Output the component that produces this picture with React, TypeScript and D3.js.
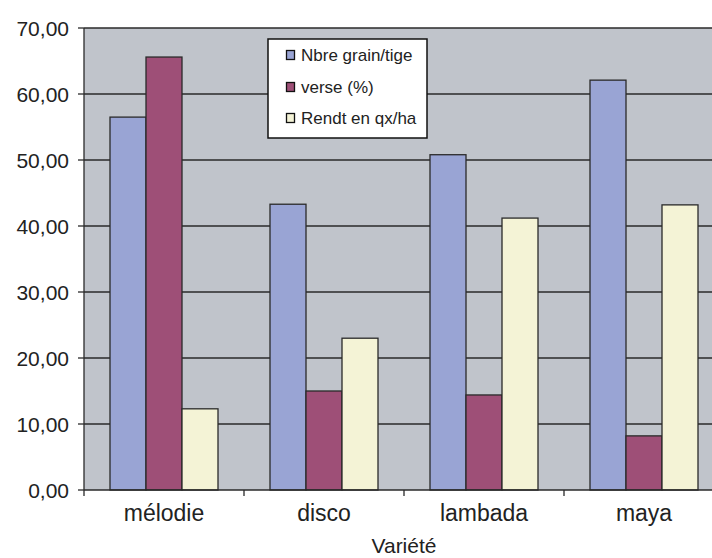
import React from "react";
import * as d3 from "d3";

const categories = ["mélodie", "disco", "lambada", "maya"];
const seriesNames = ["Nbre grain/tige", "verse (%)", "Rendt en qx/ha"];
const grain = [56.5, 43.3, 50.8, 62.1];
const verse = [65.6, 15.0, 14.4, 8.2];
const rendt = [12.3, 23.0, 41.2, 43.2];
const yTicks = [0, 10, 20, 30, 40, 50, 60, 70];
const colors = ["#99A4D4", "#9E4F77", "#F4F3D6"];

export default function App() {
  const W = 712, H = 558;
  const left = 84, top = 28, bottom = 490, right = 724;
  const series = [grain, verse, rendt];
  const x = d3.scaleBand<string>().domain(categories).range([left, right]).paddingInner(0).paddingOuter(0);
  const y = d3.scaleLinear().domain([0, 70]).range([bottom, top]);
  const font = "Liberation Sans, Arial, sans-serif";
  const inner = x.bandwidth();
  const groupW = 108;
  const barW = groupW / 3;
  const off = (inner - groupW) / 2;
  const legY = [55, 87, 118];
  return (
    <svg width={W} height={H} style={{ position: "absolute", left: 0, top: 0 }}>
      <rect x={0} y={0} width={W} height={H} fill="#fff" />
      <rect x={left} y={top} width={right - left} height={bottom - top} fill="#C0C4CB" />
      {yTicks.map((t) => (
        <g key={t}>
          {t > 0 && <line x1={left} x2={right} y1={y(t)} y2={y(t)} stroke="#2a2a2a" strokeWidth={1.3} />}
          <line x1={left - 6} x2={left} y1={y(t)} y2={y(t)} stroke="#2a2a2a" strokeWidth={1.3} />
          <text x={69} y={y(t)} dy="0.36em" textAnchor="end" fontFamily={font} fontSize={21} fill="#222">
            {d3.format(".2f")(t).replace(".", ",")}
          </text>
        </g>
      ))}
      {categories.map((c, i) => (
        <g key={c}>
          {series.map((s, k) => (
            <rect key={k} x={(x(c) as number) + off + k * barW} y={y(s[i])} width={barW} height={bottom - y(s[i])}
              fill={colors[k]} stroke="#2a2a2a" strokeWidth={1.3} />
          ))}
          <line x1={x(c) as number} x2={x(c) as number} y1={bottom} y2={bottom + 6} stroke="#2a2a2a" strokeWidth={1.3} />
          <text x={(x(c) as number) + inner / 2} y={521} textAnchor="middle" fontFamily={font} fontSize={23} fill="#222">{c}</text>
        </g>
      ))}
      <line x1={left} x2={left} y1={top} y2={bottom} stroke="#2a2a2a" strokeWidth={1.3} />
      <line x1={left} x2={right} y1={bottom} y2={bottom} stroke="#2a2a2a" strokeWidth={1.3} />
      <text x={404} y={553} textAnchor="middle" fontFamily={font} fontSize={21} fill="#222">Variété</text>
      <g>
        <rect x={268} y={39} width={159} height={99} fill="#fff" stroke="#111" strokeWidth={1.5} />
        {seriesNames.map((n, k) => (
          <g key={n}>
            <rect x={286.5} y={legY[k] - 4.5} width={8} height={9} fill={colors[k]} stroke="#111" strokeWidth={1.3} />
            <text x={301} y={legY[k]} dy="0.36em" fontFamily={font} fontSize={17} fill="#222">{n}</text>
          </g>
        ))}
      </g>
    </svg>
  );
}
